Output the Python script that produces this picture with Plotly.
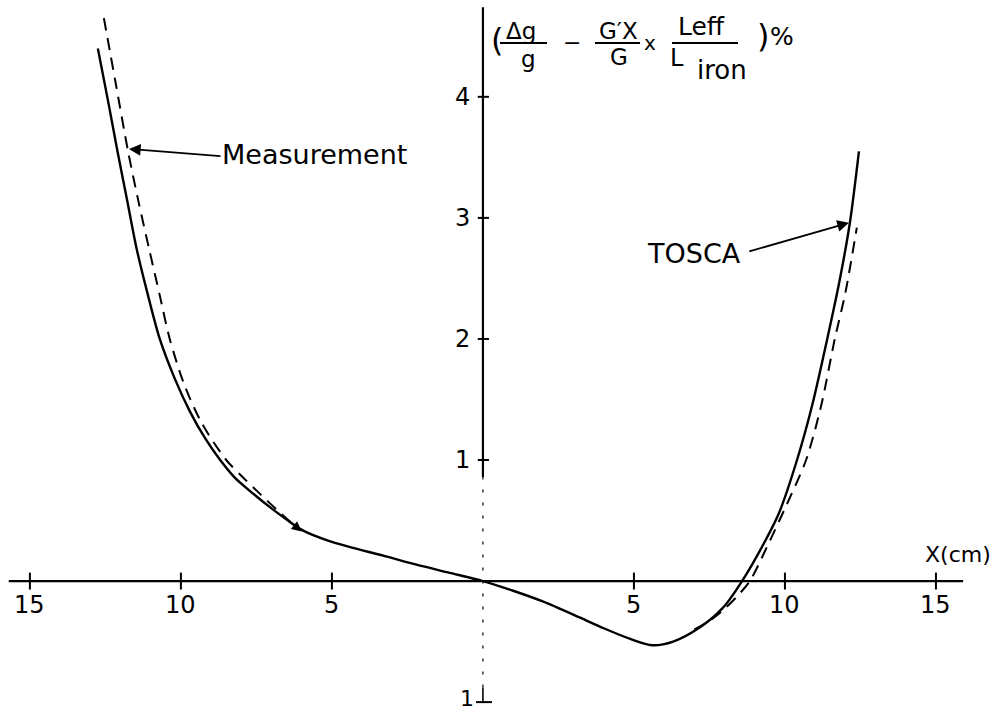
import plotly.graph_objects as go

# ---- data ----
tosca_x = [-12.75, -12.4, -12.1, -11.8, -11.47, -11.1, -10.7, -10.2, -9.7, -9.2, -8.7, -8.2, -7.72,
           -7.0, -6.4, -5.9, -5.2, -4.4, -3.3, -2.2, -1.1, 0.0, 1.0, 2.0, 3.2, 4.0, 4.9, 5.6, 6.3,
           7.2, 7.95, 8.58, 9.3, 9.8, 10.4, 10.9, 11.4, 11.8, 12.15, 12.45]
tosca_y = [4.40, 3.95, 3.55, 3.17, 2.75, 2.37, 2.0, 1.67, 1.40, 1.18, 1.0, 0.85, 0.745,
           0.60, 0.49, 0.41, 0.34, 0.28, 0.21, 0.135, 0.068, 0.0, -0.08, -0.17, -0.30, -0.39, -0.48, -0.53, -0.50,
           -0.38, -0.22, 0.0, 0.31, 0.56, 1.0, 1.45, 2.0, 2.47, 2.96, 3.55]

meas_left_x = [-12.55, -12.15, -11.75, -11.4, -11.05, -10.7, -10.37, -9.9, -9.3, -8.5, -8.0, -7.38, -6.7, -6.06]
meas_left_y = [4.65, 4.10, 3.55, 3.13, 2.74, 2.36, 2.0, 1.63, 1.3, 1.0, 0.87, 0.72, 0.56, 0.42]
meas_right_x = [7.0, 7.5, 8.0, 8.4, 8.84, 9.4, 10.0, 10.7, 11.2, 11.65, 12.0, 12.38]
meas_right_y = [-0.40, -0.33, -0.23, -0.13, 0.0, 0.28, 0.60, 1.0, 1.45, 2.0, 2.38, 2.92]

x_ticks = [-15, -10, -5, 5, 10, 15]
x_tick_labels = ["15", "10", "5", "5", "10", "15"]
y_ticks = [1, 2, 3, 4]
y_tick_labels = ["1", "2", "3", "4"]
y_neg_tick = -1
y_neg_label = "1"

X_RANGE = [-15.99, 17.22]
Y_RANGE = [-1.09, 4.80]
W, H = 1003, 713
FONT = "DejaVu Sans"
INK = "black"


def paper(px, py):
    return px / W, 1 - py / H


fig = go.Figure()

fig.add_trace(go.Scatter(x=tosca_x, y=tosca_y, mode="lines", name="TOSCA",
                         line=dict(color=INK, width=2.4, shape="spline", smoothing=0.8)))
fig.add_trace(go.Scatter(x=meas_left_x, y=meas_left_y, mode="lines", name="Measurement",
                         line=dict(color=INK, width=2, dash="12px,8px", shape="spline", smoothing=0.8)))
fig.add_trace(go.Scatter(x=meas_right_x, y=meas_right_y, mode="lines", name="Measurement",
                         line=dict(color=INK, width=2, dash="12px,8px", shape="spline", smoothing=0.8)))

shapes = []
# x axis line
shapes.append(dict(type="line", xref="x", yref="y", x0=-15.7, x1=15.9, y0=0, y1=0,
                   line=dict(color=INK, width=2.2)))
for xt in x_ticks:
    shapes.append(dict(type="line", xref="x", yref="y", x0=xt, x1=xt, y0=-0.07, y1=0.07,
                       line=dict(color=INK, width=2)))
# y axis line: solid part, dotted part
shapes.append(dict(type="line", xref="x", yref="y", x0=0, x1=0, y0=0.86, y1=4.74,
                   line=dict(color=INK, width=2.2)))
shapes.append(dict(type="line", xref="x", yref="y", x0=0, x1=0, y0=-0.88, y1=0.86,
                   line=dict(color=INK, width=1.2, dash="3px,10px")))
for yt in y_ticks:
    shapes.append(dict(type="line", xref="x", yref="y", x0=-0.17, x1=0.2, y0=yt, y1=yt,
                       line=dict(color=INK, width=2)))
shapes.append(dict(type="line", xref="x", yref="y", x0=-0.23, x1=0.3, y0=y_neg_tick, y1=y_neg_tick,
                   line=dict(color=INK, width=2)))
shapes.append(dict(type="line", xref="x", yref="y", x0=0, x1=0, y0=y_neg_tick, y1=y_neg_tick + 0.12,
                   line=dict(color=INK, width=1.6)))

annotations = []
for xt, lab in zip(x_ticks, x_tick_labels):
    annotations.append(dict(x=xt, y=-0.2, xref="x", yref="y", text=lab, showarrow=False,
                            xanchor="center", yanchor="middle",
                            font=dict(family=FONT, size=24, color=INK)))
for yt, lab in zip(y_ticks, y_tick_labels):
    annotations.append(dict(x=-0.35, y=yt, xref="x", yref="y", text=lab, showarrow=False,
                            xanchor="right", yanchor="middle", font=dict(family=FONT, size=24, color=INK)))
annotations.append(dict(x=-0.22, y=y_neg_tick + 0.03, xref="x", yref="y", text=y_neg_label,
                        showarrow=False, xanchor="right", yanchor="middle",
                        font=dict(family=FONT, size=22, color=INK)))


def txt(pxx, pyy, s, size=22):
    a, b = paper(pxx, pyy)
    annotations.append(dict(x=a, y=b, xref="paper", yref="paper", text=s, showarrow=False,
                            xanchor="center", yanchor="middle",
                            font=dict(family=FONT, size=size, color=INK)))


def bar(x0, x1, y):
    a0, b = paper(x0, y)
    a1, _ = paper(x1, y)
    shapes.append(dict(type="line", xref="paper", yref="paper", x0=a0, x1=a1, y0=b, y1=b,
                       line=dict(color=INK, width=2)))


# axis label X(cm)
txt(958, 554, "X(cm)", 22)
# curve labels
txt(314, 154, "Measurement", 27)
txt(694, 253, "TOSCA", 27)

# arrows
annotations.append(dict(x=-11.72, y=3.57, ax=-8.64, ay=3.51, xref="x", yref="y", axref="x", ayref="y",
                        text="", showarrow=True, arrowhead=2, arrowsize=1.3, arrowwidth=1.8, arrowcolor=INK))
annotations.append(dict(x=12.12, y=2.96, ax=8.77, ay=2.72, xref="x", yref="y", axref="x", ayref="y",
                        text="", showarrow=True, arrowhead=2, arrowsize=1.3, arrowwidth=1.8, arrowcolor=INK))
annotations.append(dict(x=-6.0, y=0.41, ax=-6.6, ay=0.53, xref="x", yref="y", axref="x", ayref="y",
                        text="", showarrow=True, arrowhead=2, arrowsize=1.1, arrowwidth=1.8, arrowcolor=INK))

# y-axis title (fraction expression)
txt(497, 40, "(", 32)
txt(521, 31, "Δg", 23)
bar(500, 547, 43)
txt(528, 59, "g", 23)
txt(572, 43, "−")
txt(618, 31, "G′X", 23)
bar(595, 640, 43)
txt(619, 57, "G", 23)
txt(650, 43, "x", 20)
txt(701, 27, "Leff", 25)
bar(672, 738, 43)
txt(677, 58, "L", 24)
txt(722, 70, "iron", 26)
txt(763, 36, ")", 32)
txt(782, 36, "%", 25)

fig.update_layout(
    width=W, height=H,
    margin=dict(l=0, r=0, t=0, b=0),
    paper_bgcolor="white", plot_bgcolor="white",
    showlegend=False,
    xaxis=dict(range=X_RANGE, visible=False, fixedrange=True),
    yaxis=dict(range=Y_RANGE, visible=False, fixedrange=True),
    shapes=shapes, annotations=annotations,
)

fig.write_html("out.html")
